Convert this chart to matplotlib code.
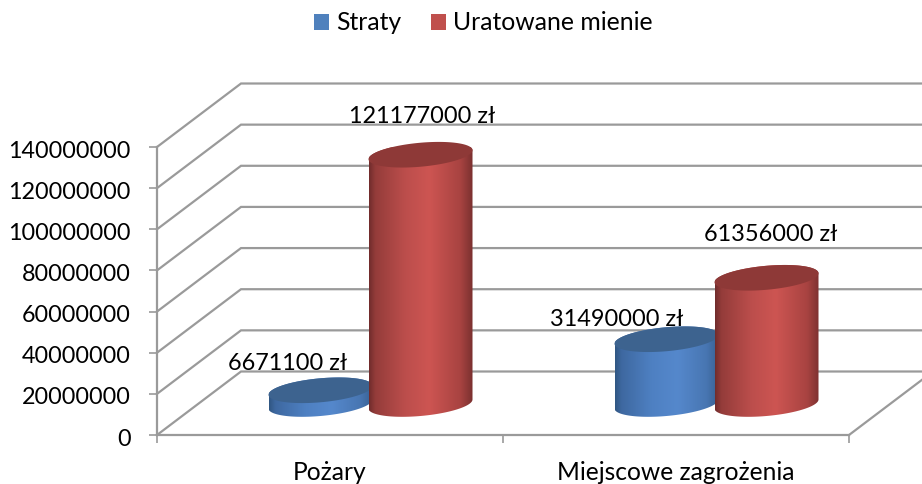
import numpy as np
import matplotlib
matplotlib.use("Agg")
import matplotlib.pyplot as plt
from matplotlib.patches import Patch, Polygon
from matplotlib.transforms import ScaledTranslation

plt.rcParams['font.family'] = ['Lato', 'DejaVu Sans']

categories = ["Pożary", "Miejscowe zagrożenia"]
series_names = ["Straty", "Uratowane mienie"]
straty = [6671100, 31490000]
uratowane = [121177000, 61356000]
value_labels = [["6671100 zł", "31490000 zł"], ["121177000 zł", "61356000 zł"]]
y_ticks = [0, 20000000, 40000000, 60000000, 80000000, 100000000, 120000000, 140000000]

W, H = 922, 484
fig = plt.figure(figsize=(W / 100, H / 100), dpi=100)
ax = fig.add_axes([157 / W, 1 - 435 / H, 692 / W, 288 / H])
YMAX = y_ticks[-1]
ax.set_xlim(0, len(categories))
ax.set_ylim(0, YMAX)
PX = len(categories) / 692
PY = YMAX / 288

GRID = "#9A9A9A"
DEPTH_X, DEPTH_Y = 84 * PX, 63.5 * PY

# walls and floor
for v in y_ticks:
    ax.plot([0, DEPTH_X, len(categories) + DEPTH_X], [v, v + DEPTH_Y, v + DEPTH_Y],
            color=GRID, lw=1.6, clip_on=False, zorder=1, solid_joinstyle="miter")
ax.plot([len(categories), len(categories) + DEPTH_X], [0, DEPTH_Y],
        color=GRID, lw=1.6, clip_on=False, zorder=1)

for s in ("top", "right"):
    ax.spines[s].set_visible(False)
for s in ("left", "bottom"):
    ax.spines[s].set_color(GRID)
    ax.spines[s].set_linewidth(1.6)
ax.patch.set_alpha(0)

ax.set_yticks(y_ticks)
ax.set_yticklabels([str(v) for v in y_ticks])
ax.tick_params(axis="y", length=5.8, width=1.2, color=GRID, pad=13.2, labelsize=16.8, labelcolor="black")
down = ScaledTranslation(0, -2 / 100, fig.dpi_scale_trans)
for lab in ax.get_yticklabels():
    lab.set_transform(lab.get_transform() + down)
ax.set_xticks(range(len(categories) + 1))
ax.set_xticklabels([])
ax.tick_params(axis="x", which="major", length=5.8, width=1.2, color=GRID)
ax.set_xticks([i + 0.5 for i in range(len(categories))], minor=True)
ax.set_xticklabels(categories, minor=True)
ax.tick_params(axis="x", which="minor", length=0, pad=19, labelsize=17.7, labelcolor="black")


def ramp(stops, n=256):
    xs = np.linspace(0, 1, n)
    pos = [s[0] for s in stops]
    return np.stack([np.interp(xs, pos, [s[1][k] / 255 for s in stops]) for k in range(3)], axis=-1)[None, :, :]


STYLES = [
    dict(legend="#4F81BD", top="#3D638F",
         stops=[(0, (48, 86, 130)), (0.06, (62, 104, 160)), (0.35, (78, 128, 194)),
                (0.6, (85, 136, 204)), (0.88, (72, 118, 178)), (1, (56, 96, 146))]),
    dict(legend="#C0504D", top="#8E3937",
         stops=[(0, (112, 44, 44)), (0.06, (148, 60, 58)), (0.35, (188, 78, 76)),
                (0.58, (205, 85, 82)), (0.88, (168, 67, 65)), (1, (122, 48, 47))]),
]

A = 52 * PX         # half width of a column
B = 12 * PY         # minor half axis of the end ellipses
TILT = 4.5 * PY     # the ellipses lean up to the right
SEP = 50 * PX       # half distance of the two columns in a group
SHIFT_X, SHIFT_Y = 40.5 * PX, 31 * PY  # columns stand half way into the depth

t_low = np.linspace(np.pi, 2 * np.pi, 80)
t_up = np.linspace(0, np.pi, 80)
t_all = np.linspace(0, 2 * np.pi, 160)


def ell(cx, cy, t):
    return np.column_stack([cx + A * np.cos(t), cy + TILT * np.cos(t) + B * np.sin(t)])


def cylinder(cx, value, style, z):
    base = SHIFT_Y
    top = base + value
    outline = np.vstack([ell(cx, base, t_low), ell(cx, top, t_up)])
    poly = Polygon(outline, closed=True, transform=ax.transData, facecolor="none", edgecolor="none")
    ax.add_patch(poly)
    poly.set_clip_on(False)
    im = ax.imshow(ramp(style["stops"]), extent=[cx - A, cx + A, base - 2 * B, top + 2 * B],
                   aspect="auto", zorder=z, interpolation="bilinear", clip_on=True)
    im.set_clip_path(poly)
    ax.add_patch(Polygon(ell(cx, top, t_all), closed=True, facecolor=style["top"], edgecolor="none",
                         zorder=z + 0.1, clip_on=False))


for i in range(len(categories)):
    center = i + 0.5 + SHIFT_X
    cylinder(center - SEP, straty[i], STYLES[0], 3)
    cylinder(center + SEP, uratowane[i], STYLES[1], 4)
ax.set_xlim(0, len(categories))
ax.set_ylim(0, YMAX)

# data labels: offsets in pixels from the column's top centre (hand placed in the original)
offsets = [[(-33, 27), (-50, 20)], [(2, 38), (4, 43)]]
for s, vals in enumerate([straty, uratowane]):
    for i, v in enumerate(vals):
        cx = i + 0.5 + SHIFT_X + (2 * s - 1) * SEP
        dx, dy = offsets[s][i]
        ax.annotate(value_labels[s][i], (cx, v + SHIFT_Y), xytext=(dx * 0.72, dy * 0.72),
                    textcoords="offset points", ha="center", va="center", fontsize=16.9,
                    color="black", zorder=6, annotation_clip=False)

handles = [Patch(facecolor=STYLES[k]["legend"], edgecolor="none") for k in range(2)]
fig.legend(handles, series_names, loc="center", bbox_to_anchor=(483 / W, 1 - 23 / H), ncol=2,
           frameon=False, fontsize=17.8, handlelength=0.62, handleheight=0.62,
           handletextpad=0.27, columnspacing=1.2, labelcolor="black")

fig.savefig("out.png", dpi=100, facecolor="white")
